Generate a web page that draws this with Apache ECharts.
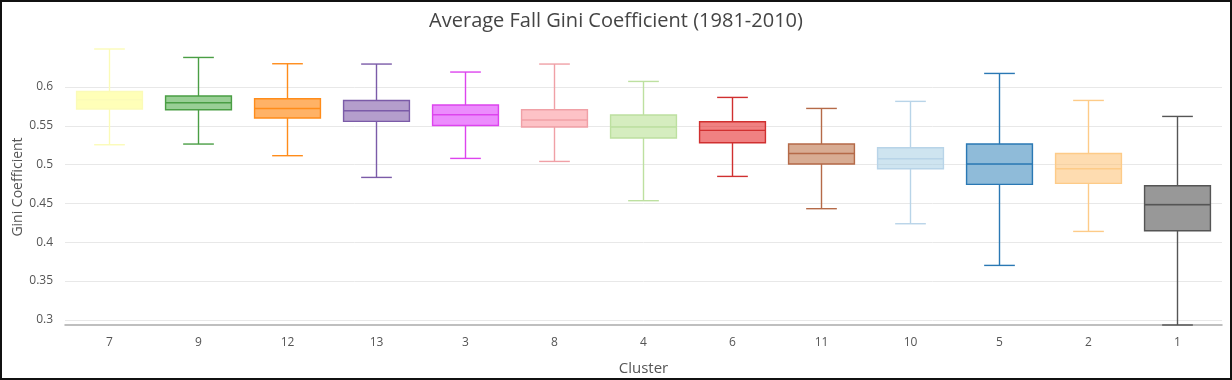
<!DOCTYPE html>
<html>
<head>
<meta charset="utf-8">
<script src="https://cdn.jsdelivr.net/npm/echarts@6/dist/echarts.min.js"></script>
<style>
  html, body { margin: 0; padding: 0; background: #fff; }
  #wrap { width: 1232px; height: 380px; box-sizing: border-box; border: 2px solid #111; }
  #chart { width: 1228px; height: 376px; }
</style>
</head>
<body>
<div id="wrap"><div id="chart"></div></div>
<script>
const categories = ['7', '9', '12', '13', '3', '8', '4', '6', '11', '10', '5', '2', '1'];
const whiskerLow = [0.5256, 0.5265, 0.5115, 0.4835, 0.5080, 0.5041, 0.4535, 0.4848, 0.4432, 0.4238, 0.3701, 0.4139, 0.2933];
const q1Values   = [0.5716, 0.5707, 0.5600, 0.5557, 0.5505, 0.5485, 0.5343, 0.5282, 0.5008, 0.4947, 0.4745, 0.4758, 0.4148];
const medians    = [0.5836, 0.5798, 0.5724, 0.5695, 0.5643, 0.5575, 0.5485, 0.5441, 0.5144, 0.5076, 0.5008, 0.4947, 0.4483];
const q3Values   = [0.5943, 0.5884, 0.5849, 0.5827, 0.5768, 0.5707, 0.5639, 0.5553, 0.5265, 0.5218, 0.5265, 0.5144, 0.4728];
const whiskerHigh= [0.6490, 0.6381, 0.6300, 0.6296, 0.6193, 0.6296, 0.6072, 0.5866, 0.5724, 0.5815, 0.6175, 0.5827, 0.5621];
const fillColors = ['rgba(255,255,160,0.75)', 'rgba(51,160,44,0.5)', 'rgba(255,127,0,0.6)', 'rgba(106,61,154,0.5)',
                    'rgba(224,64,251,0.6)', 'rgba(251,154,160,0.6)', 'rgba(178,223,138,0.55)', 'rgba(227,26,28,0.55)',
                    'rgba(177,89,40,0.5)', 'rgba(166,206,227,0.55)', 'rgba(31,120,180,0.5)', 'rgba(253,191,111,0.55)', 'rgba(68,68,68,0.55)'];
const lineColors = ['#fbfbb8', '#4a9e44', '#ff8c1a', '#7b5ba8', '#dd44ee', '#f0a0a6', '#bde0a0', '#d03030',
                    '#b56a48', '#b8d4e8', '#2a78b4', '#fdcb88', '#555555'];

const data = categories.map((c, i) => [i, whiskerLow[i], q1Values[i], medians[i], q3Values[i], whiskerHigh[i]]);

const chart = echarts.init(document.getElementById('chart'));
chart.setOption({
  animation: false,
  title: {
    text: 'Average Fall Gini Coefficient (1981-2010)',
    left: 'center', top: 4,
    textStyle: { fontFamily: 'Open Sans', fontSize: 20, fontWeight: 'normal', color: '#444' }
  },
  grid: { left: 63, right: 8, top: 47, bottom: 53, outerBoundsMode: 'none', containLabel: false },
  xAxis: {
    type: 'category',
    data: categories,
    name: 'Cluster',
    nameLocation: 'middle',
    nameGap: 36,
    nameMoveOverlap: false,
    nameTextStyle: { fontFamily: 'Open Sans', fontSize: 15, color: '#555' },
    axisLine: { lineStyle: { color: '#aaa', width: 1.5 } },
    axisTick: { alignWithLabel: true, length: 3, lineStyle: { color: '#aaa' } },
    axisLabel: { fontFamily: 'Open Sans', fontSize: 12, color: '#555', margin: 12 },
    splitLine: { show: false }
  },
  yAxis: {
    type: 'value',
    min: v => v.min,
    max: v => v.max,
    minInterval: 0.05,
    maxInterval: 0.05,
    name: 'Gini Coefficient',
    nameLocation: 'middle',
    nameGap: 40,
    nameMoveOverlap: false,
    nameTextStyle: { fontFamily: 'Open Sans', fontSize: 14, color: '#555' },
    axisLine: { show: false },
    axisTick: { show: false },
    axisLabel: { fontFamily: 'Open Sans', fontSize: 12, color: '#555', margin: 12, showMinLabel: false, showMaxLabel: false },
    splitLine: { show: true, showMinLine: false, showMaxLine: false, lineStyle: { color: '#e8e8e8', width: 1 } }
  },
  series: [{
    type: 'custom',
    encode: { x: 0, y: [1, 2, 3, 4, 5] },
    data: data,
    renderItem: function (params, api) {
      const i = api.value(0);
      const band = api.size([1, 0])[0];
      const bw = band * 0.74;
      const cw = band * 0.345;
      const pLow = api.coord([i, api.value(1)]);
      const pQ1 = api.coord([i, api.value(2)]);
      const pMed = api.coord([i, api.value(3)]);
      const pQ3 = api.coord([i, api.value(4)]);
      const pHigh = api.coord([i, api.value(5)]);
      const x = pMed[0];
      const lc = lineColors[i];
      const ls = { stroke: lc, lineWidth: 1.4, fill: null };
      return {
        type: 'group',
        children: [
          { type: 'line', shape: { x1: x, y1: pHigh[1], x2: x, y2: pQ3[1] }, style: ls },
          { type: 'line', shape: { x1: x, y1: pQ1[1], x2: x, y2: pLow[1] }, style: ls },
          { type: 'line', shape: { x1: x - cw / 2, y1: pHigh[1], x2: x + cw / 2, y2: pHigh[1] }, style: ls },
          { type: 'line', shape: { x1: x - cw / 2, y1: pLow[1], x2: x + cw / 2, y2: pLow[1] }, style: ls },
          { type: 'rect', shape: { x: x - bw / 2, y: pQ3[1], width: bw, height: pQ1[1] - pQ3[1] },
            style: { fill: fillColors[i], stroke: lc, lineWidth: 1.4 } },
          { type: 'line', shape: { x1: x - bw / 2, y1: pMed[1], x2: x + bw / 2, y2: pMed[1] }, style: ls }
        ]
      };
    }
  }]
});
</script>
</body>
</html>
